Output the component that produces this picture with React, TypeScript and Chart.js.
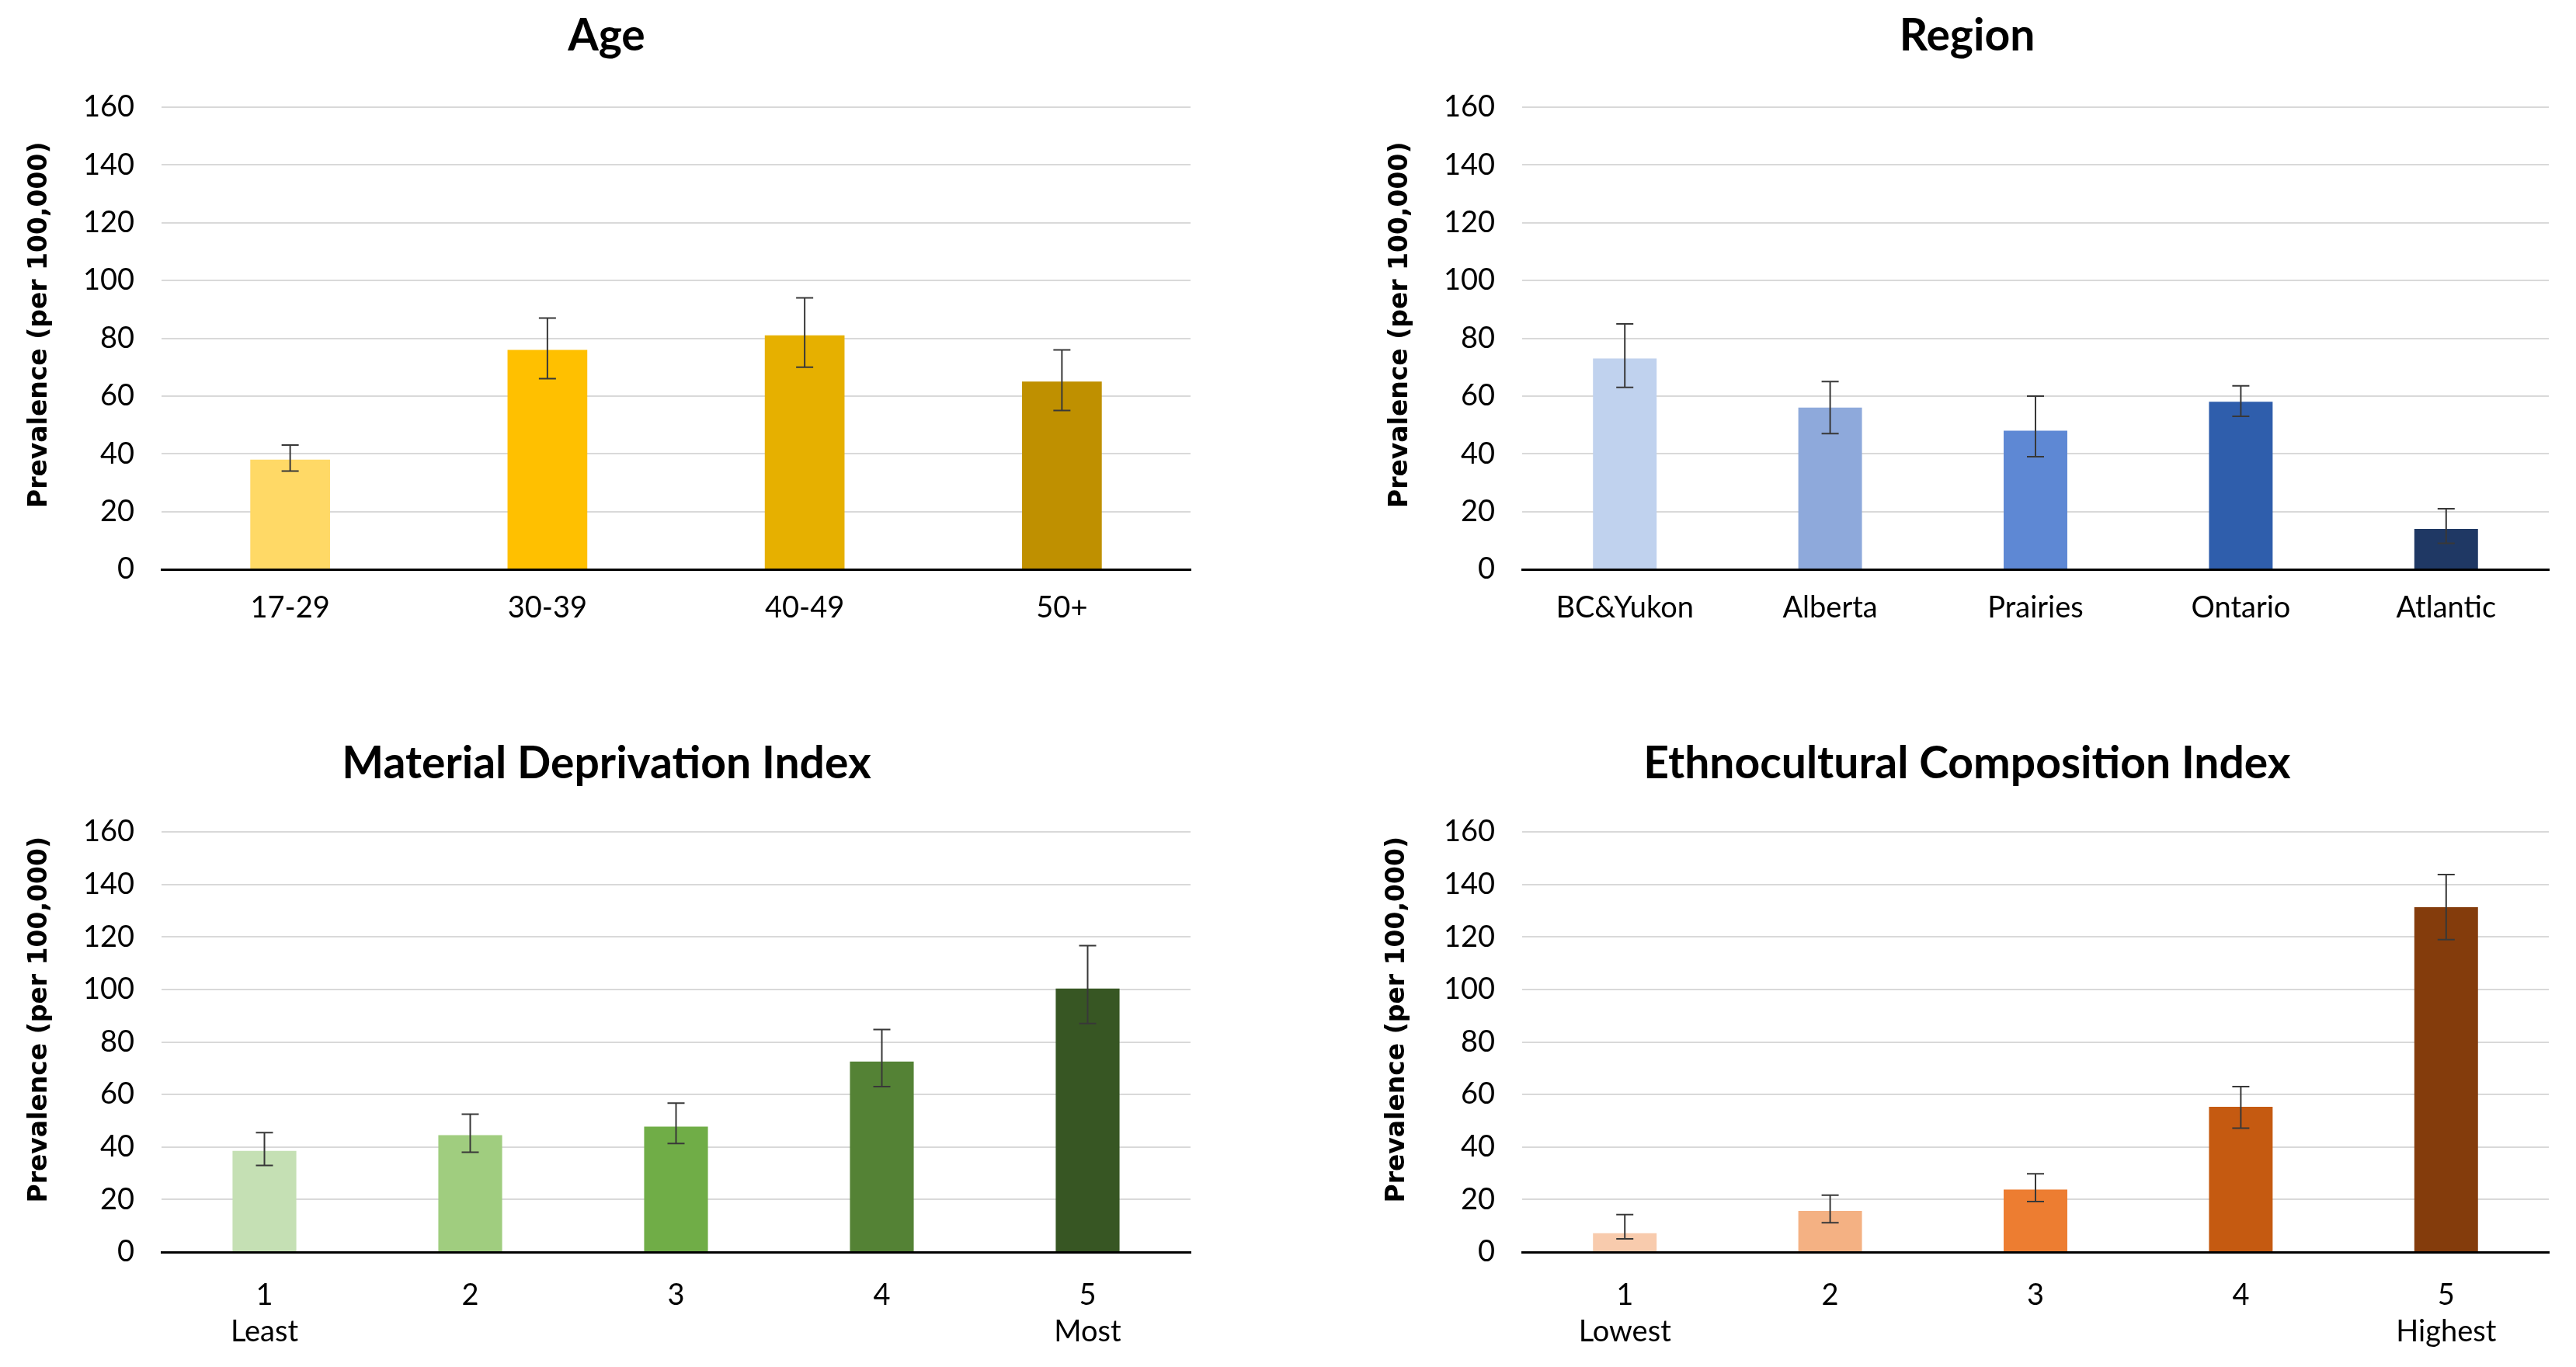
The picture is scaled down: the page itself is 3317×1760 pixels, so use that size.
import React, { useEffect, useRef } from 'react';
import { Chart, registerables } from 'chart.js';

Chart.register(...registerables);

// ---------- DATA ----------
const ageCategories = ['17-29', '30-39', '40-49', '50+'];
const ageValues = [38, 76, 81, 65];
const ageLower = [34, 66, 70, 55];
const ageUpper = [43, 87, 94, 76];

const regionCategories = ['BC&Yukon', 'Alberta', 'Prairies', 'Ontario', 'Atlantic'];
const regionValues = [73, 56, 48, 58, 14];
const regionLower = [63, 47, 39, 53, 9];
const regionUpper = [85, 65, 60, 63.5, 21];

const materialCategories = [['1', 'Least'], '2', '3', '4', ['5', 'Most']];
const materialValues = [38.5, 44.5, 47.8, 72.5, 100.3];
const materialLower = [33, 38, 41.3, 63, 87];
const materialUpper = [45.5, 52.5, 56.7, 84.7, 116.7];

const ethnoCategories = [['1', 'Lowest'], '2', '3', '4', ['5', 'Highest']];
const ethnoValues = [7.2, 15.7, 23.8, 55.3, 131.3];
const ethnoLower = [5, 11.2, 19.2, 47.2, 119];
const ethnoUpper = [14.3, 21.7, 29.8, 63, 143.7];

const yTicks = { min: 0, max: 160, step: 20 };
const yAxisTitle = 'Prevalence (per 100,000)';

// ---------- STYLES ----------
const ageColors = ['#FFD966', '#FFC000', '#E6B000', '#BF9000'];
const regionColors = ['#C0D2EE', '#8EA9DB', '#5E88D4', '#2F5EAC', '#1F3864'];
const materialColors = ['#C5E0B4', '#A0CD7F', '#70AD47', '#548235', '#375623'];
const ethnoColors = ['#F8CBAD', '#F4B183', '#ED7D31', '#C55A11', '#843C0C'];

const LABEL_FONT = 'Lato, "Open Sans", "Liberation Sans", sans-serif';
const AXIS_TITLE_FONT = '"DejaVu Sans", Verdana, sans-serif';

type PanelProps = {
  title: string;
  categories: any[];
  values: number[];
  lower: number[];
  upper: number[];
  colors: string[];
  box: { left: number; top: number; width: number; height: number };
  area: { left: number; right: number; top: number; bottom: number };
  padLeft: number;
  titleCenter: number;
  yTitleCenter: number;
  yTitleShift: number;
  xTickPad: number;
};

function Panel(p: PanelProps) {
  const ref = useRef<HTMLCanvasElement | null>(null);
  useEffect(() => {
    if (!ref.current) return;
    const titleSize = 57;
    const titleLH = titleSize * 1.2;
    const titlePadTop = p.titleCenter - titleLH / 2;
    const titlePadBottom = p.area.top - titlePadTop - titleLH;
    const yTitleSize = 33;
    const yTitleLH = yTitleSize * 1.2;
    const xHeight = p.box.height - p.area.bottom;

    const errorBars = {
      id: 'errorBars',
      afterDatasetsDraw(chart: any) {
        const ctx = chart.ctx;
        const meta = chart.getDatasetMeta(0);
        const ys = chart.scales.y;
        ctx.save();
        ctx.strokeStyle = '#383838';
        ctx.lineWidth = 2;
        meta.data.forEach((bar: any, i: number) => {
          const x = bar.x;
          const yl = ys.getPixelForValue(p.lower[i]);
          const yu = ys.getPixelForValue(p.upper[i]);
          const cap = 11;
          ctx.beginPath();
          ctx.moveTo(x, yl);
          ctx.lineTo(x, yu);
          ctx.moveTo(x - cap, yu);
          ctx.lineTo(x + cap, yu);
          ctx.moveTo(x - cap, yl);
          ctx.lineTo(x + cap, yl);
          ctx.stroke();
        });
        ctx.restore();
      },
    };

    const chart = new Chart(ref.current, {
      type: 'bar',
      data: {
        labels: p.categories,
        datasets: [
          {
            data: p.values,
            backgroundColor: p.colors,
            barPercentage: 0.31,
            categoryPercentage: 1.0,
          },
        ],
      },
      options: {
        animation: false,
        responsive: true,
        maintainAspectRatio: false,
        layout: {
          padding: { left: p.padLeft, top: 0, bottom: 0, right: p.box.width - p.area.right },
        },
        plugins: {
          legend: { display: false },
          tooltip: { enabled: false },
          title: {
            display: true,
            text: p.title,
            color: '#000',
            font: { family: LABEL_FONT, size: titleSize, weight: 'bold', lineHeight: 1.2 },
            padding: { top: titlePadTop, bottom: titlePadBottom },
          },
        },
        scales: {
          x: {
            grid: { display: false },
            border: { display: true, color: '#000', width: 3 },
            ticks: {
              color: '#000',
              padding: p.xTickPad,
              font: { family: LABEL_FONT, size: 38, lineHeight: 1.22 },
              maxRotation: 0,
              autoSkip: false,
            },
            afterFit(scale: any) {
              scale.height = xHeight;
            },
          },
          y: {
            min: yTicks.min,
            max: yTicks.max,
            ticks: {
              stepSize: yTicks.step,
              color: '#000',
              padding: 35,
              font: { family: LABEL_FONT, size: 38 },
            },
            grid: {
              color: '#D9D9D9',
              lineWidth: 2,
              drawTicks: false,
            },
            border: { display: false },
            title: {
              display: true,
              text: ' '.repeat(p.yTitleShift) + yAxisTitle,
              color: '#000',
              font: { family: AXIS_TITLE_FONT, size: yTitleSize, weight: 'bold', lineHeight: 1.2 },
              padding: { top: p.yTitleCenter - p.padLeft - yTitleLH / 2, bottom: 0 },
            },
            afterFit(scale: any) {
              scale.width = p.area.left - p.padLeft;
            },
          },
        },
      },
      plugins: [errorBars],
    } as any);
    return () => chart.destroy();
  }, []);

  return (
    <div
      style={{
        position: 'absolute',
        left: p.box.left,
        top: p.box.top,
        width: p.box.width,
        height: p.box.height,
      }}
    >
      <canvas ref={ref} />
    </div>
  );
}

export default function App() {
  return (
    <div
      style={{
        position: 'fixed',
        left: 0,
        top: 0,
        width: 3317,
        height: 1760,
        background: '#fff',
        overflow: 'hidden',
      }}
    >
      <Panel
        title="Age"
        categories={ageCategories}
        values={ageValues}
        lower={ageLower}
        upper={ageUpper}
        colors={ageColors}
        box={{ left: 0, top: 0, width: 1658, height: 880 }}
        area={{ left: 208, right: 1533, top: 138, bottom: 733 }}
        padLeft={29}
        titleCenter={47}
        yTitleCenter={51}
        yTitleShift={3}
        xTickPad={19}
      />
      <Panel
        title="Region"
        categories={regionCategories}
        values={regionValues}
        lower={regionLower}
        upper={regionUpper}
        colors={regionColors}
        box={{ left: 1658, top: 0, width: 1659, height: 880 }}
        area={{ left: 302, right: 1624, top: 138, bottom: 733 }}
        padLeft={126}
        titleCenter={47}
        yTitleCenter={145}
        yTitleShift={3}
        xTickPad={19}
      />
      <Panel
        title="Material Deprivation Index"
        categories={materialCategories}
        values={materialValues}
        lower={materialLower}
        upper={materialUpper}
        colors={materialColors}
        box={{ left: 0, top: 880, width: 1658, height: 880 }}
        area={{ left: 208, right: 1533, top: 191, bottom: 732 }}
        padLeft={29}
        titleCenter={104}
        yTitleCenter={51}
        yTitleShift={5}
        xTickPad={25}
      />
      <Panel
        title="Ethnocultural Composition Index"
        categories={ethnoCategories}
        values={ethnoValues}
        lower={ethnoLower}
        upper={ethnoUpper}
        colors={ethnoColors}
        box={{ left: 1658, top: 880, width: 1659, height: 880 }}
        area={{ left: 302, right: 1624, top: 191, bottom: 732 }}
        padLeft={126}
        titleCenter={104}
        yTitleCenter={141}
        yTitleShift={5}
        xTickPad={25}
      />
    </div>
  );
}
